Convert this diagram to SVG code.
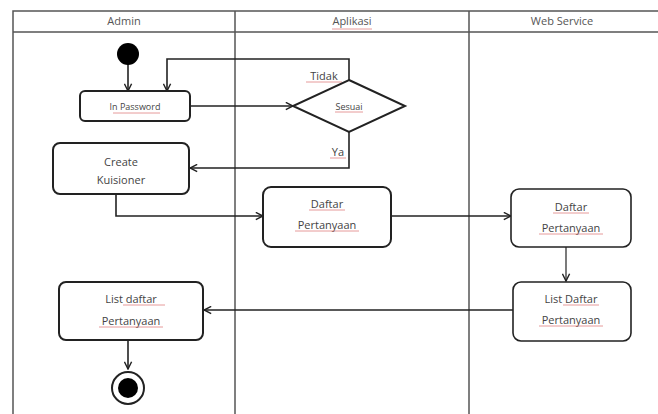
<svg xmlns="http://www.w3.org/2000/svg" width="658" height="414" viewBox="0 0 658 414">
<style>
.lane{fill:none;stroke:#555;stroke-width:1.5}
.box{fill:#fff;stroke:#222;stroke-width:2}
.txt{font-family:"Open Sans","Liberation Sans",sans-serif;font-size:11px;fill:#444;text-anchor:middle}
.hd{font-family:"Open Sans","Liberation Sans",sans-serif;font-size:11px;fill:#555;text-anchor:middle}
.edge{fill:none;stroke:#222;stroke-width:1.6}
.sq{fill:none;stroke:#e08080;stroke-width:0.8}
</style>
<defs>
<marker id="arr" viewBox="0 0 10 10" refX="9" refY="5" markerWidth="9" markerHeight="9" markerUnits="userSpaceOnUse" orient="auto">
<path d="M1,1 L9,5 L1,9" fill="none" stroke="#222" stroke-width="1.6"/>
</marker>
</defs>
<rect width="658" height="414" fill="#fff"/>
<g id="swimlanes">
<path class="lane" d="M13,414 V11 H658 M13,32 H658 M235,11 V414 M469,11 V414"/>
<text class="hd" x="124" y="25">Admin</text>
<text class="hd" x="352" y="25">Aplikasi</text>
<path class="sq" d="M332,29 H372"/>
<text class="hd" x="562" y="25">Web Service</text>
</g>
<g id="connectors">
<path class="edge" d="M128,64 V91" marker-end="url(#arr)"/>
<path class="edge" d="M349,80 V59 H167 V91" marker-end="url(#arr)"/>
<path class="edge" d="M190,106 H293" marker-end="url(#arr)"/>
<path class="edge" d="M349,132 V168 H190" marker-end="url(#arr)"/>
<path class="edge" d="M116,194 V216 H263" marker-end="url(#arr)"/>
<path class="edge" d="M391,216 H511" marker-end="url(#arr)"/>
<path class="edge" d="M566,247 V281" marker-end="url(#arr)" style="stroke-width:1.2"/>
<path class="edge" d="M513,310 H204" marker-end="url(#arr)"/>
<path class="edge" d="M128,340 V369" marker-end="url(#arr)"/>
<text class="txt" x="324" y="80">Tidak</text>
<path class="sq" d="M306,82 H342"/>
<text class="txt" x="338" y="156">Ya</text>
<path class="sq" d="M330,158 H346"/>
</g>
<g id="start">
<circle cx="128" cy="54" r="11" fill="#000"/>
</g>
<g id="in-password">
<rect class="box" x="80" y="91" width="110" height="30" rx="5"/>
<text class="txt" x="135" y="110" style="font-size:9px">In Password</text>
<path class="sq" d="M113,113 H160"/>
</g>
<g id="sesuai">
<path class="box" d="M349,80 L405,106 L349,132 L293,106 Z"/>
<text class="txt" x="349" y="110" style="font-size:9px">Sesuai</text>
<path class="sq" d="M335,112 H363"/>
</g>
<g id="create-kuisioner">
<rect class="box" x="53" y="143" width="136" height="51" rx="7"/>
<text class="txt" x="121" y="166">Create</text>
<text class="txt" x="121" y="184">Kuisioner</text>
</g>
<g id="daftar-aplikasi">
<rect class="box" x="263" y="187" width="128" height="60" rx="8"/>
<text class="txt" x="327" y="208">Daftar</text>
<path class="sq" d="M309,210 H345"/>
<text class="txt" x="327" y="229">Pertanyaan</text>
<path class="sq" d="M295,231 H359"/>
</g>
<g id="daftar-ws">
<rect class="box" x="511" y="189" width="120" height="58" rx="8" style="stroke-width:1.6"/>
<text class="txt" x="571" y="211">Daftar</text>
<path class="sq" d="M553,213 H589"/>
<text class="txt" x="571" y="232">Pertanyaan</text>
<path class="sq" d="M539,234 H603"/>
</g>
<g id="list-ws">
<rect class="box" x="513" y="282" width="118" height="59" rx="8" style="stroke-width:1.6"/>
<text class="txt" x="571" y="303">List Daftar</text>
<path class="sq" d="M563,305 H599"/>
<text class="txt" x="571" y="324">Pertanyaan</text>
<path class="sq" d="M539,326 H603"/>
</g>
<g id="list-admin">
<rect class="box" x="59" y="282" width="144" height="58" rx="7"/>
<text class="txt" x="131" y="303">List daftar</text>
<path class="sq" d="M123,305 H165"/>
<text class="txt" x="131" y="325">Pertanyaan</text>
<path class="sq" d="M99,327 H163"/>
</g>
<g id="end">
<circle cx="128" cy="388" r="16" fill="#fff" stroke="#222" stroke-width="2"/>
<circle cx="128" cy="388" r="10" fill="#000"/>
</g>
</svg>
